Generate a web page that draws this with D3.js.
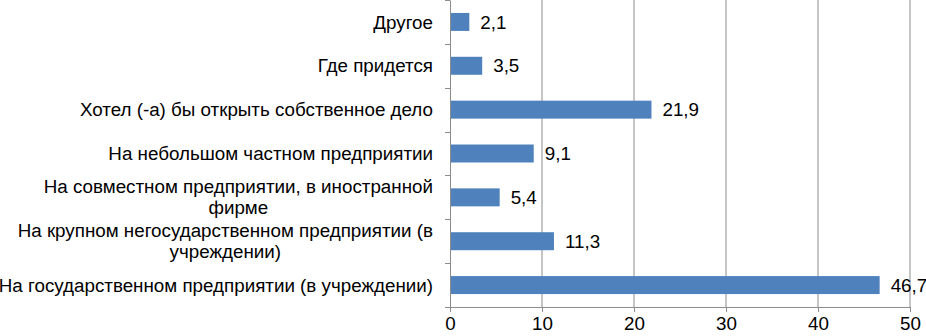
<!DOCTYPE html>
<html>
<head>
<meta charset="utf-8">
<script src="https://cdn.jsdelivr.net/npm/d3@7/dist/d3.min.js"></script>
<style>
  html, body { margin: 0; padding: 0; background: #fff; }
  svg { display: block; }
  text { font-family: Arial, "Liberation Sans", sans-serif; fill: #000; }
</style>
</head>
<body>
<svg id="chart" width="926" height="336"></svg>
<script>
const categories = [
  "Другое",
  "Где придется",
  "Хотел (-а) бы открыть собственное дело",
  "На небольшом частном предприятии",
  "На совместном предприятии, в иностранной фирме",
  "На крупном негосударственном предприятии (в учреждении)",
  "На государственном предприятии (в учреждении)"
];
const values = [2.1, 3.5, 21.9, 9.1, 5.4, 11.3, 46.7];
const valueLabels = ["2,1", "3,5", "21,9", "9,1", "5,4", "11,3", "46,7"];
const xTicks = [0, 10, 20, 30, 40, 50];

const fontSize = 18.8;
const margin = { left: 450, right: 16, top: 0, bottom: 29 };
const W = 926, H = 336;
const innerW = W - margin.left - margin.right;
const innerH = H - margin.top - margin.bottom;

const svg = d3.select("#chart");
const g = svg.append("g").attr("transform", `translate(${margin.left},${margin.top})`);

const x = d3.scaleLinear().domain([0, 50]).range([0, innerW]);
const y = d3.scaleBand().domain(categories).range([0, innerH]).paddingInner(0.59).paddingOuter(0.295);
const yb = d3.scaleBand().domain(categories).range([0, innerH]);

const gridColor = "#8c8c8c";

// gridlines
g.selectAll("line.grid").data(xTicks.filter(d => d > 0)).enter().append("line")
  .attr("x1", d => x(d)).attr("x2", d => x(d))
  .attr("y1", 0).attr("y2", innerH)
  .attr("stroke", gridColor).attr("stroke-width", 1);

// bars
g.selectAll("rect.bar").data(values).enter().append("rect")
  .attr("x", x(0))
  .attr("y", (d, i) => y(categories[i]))
  .attr("width", d => x(d) - x(0))
  .attr("height", y.bandwidth())
  .attr("fill", "#4f81bd");

// value labels
g.selectAll("text.val").data(values).enter().append("text")
  .attr("x", d => x(d) + 11)
  .attr("y", (d, i) => y(categories[i]) + y.bandwidth() / 2)
  .attr("dy", "0.35em")
  .style("font-size", fontSize + "px")
  .text((d, i) => valueLabels[i]);

// x axis
const xAxis = d3.axisBottom(x).tickValues(xTicks).tickSize(5).tickPadding(5).tickFormat(d3.format("d"));
const xg = g.append("g").attr("transform", `translate(0,${innerH})`).call(xAxis);
xg.select(".domain").attr("stroke", gridColor);
xg.selectAll(".tick line").attr("stroke", gridColor);
xg.selectAll(".tick text").style("font-size", fontSize + "px")
  .style("font-family", 'Arial, "Liberation Sans", sans-serif').attr("fill", "#000");

// y axis line and band ticks
const yAxis = d3.axisLeft(yb).tickSize(0).tickFormat("");
const yg = g.append("g").call(yAxis);
yg.select(".domain").attr("stroke", gridColor);
yg.selectAll(".tick").remove();
const bounds = categories.map(c => yb(c)).concat([innerH]);
g.selectAll("line.ytick").data(bounds).enter().append("line")
  .attr("x1", -5).attr("x2", 0)
  .attr("y1", d => Math.round(d) + 0.5).attr("y2", d => Math.round(d) + 0.5)
  .attr("stroke", gridColor);

// category labels with wrapping, right-aligned block, centered lines
const maxW = 445;
const lineH = 21;
const labelRight = -17;
categories.forEach((c, i) => {
  const words = c.split(" ");
  const tmp = g.append("text").style("font-size", fontSize + "px");
  const lines = [];
  let cur = [];
  words.forEach(w => {
    const test = cur.concat([w]).join(" ");
    tmp.text(test);
    if (tmp.node().getComputedTextLength() > maxW && cur.length) {
      lines.push(cur.join(" "));
      cur = [w];
    } else cur.push(w);
  });
  lines.push(cur.join(" "));
  const widths = lines.map(l => { tmp.text(l); return tmp.node().getComputedTextLength(); });
  tmp.remove();
  const blockW = Math.max(...widths);
  const cx = labelRight - blockW / 2;
  const cy = y(c) + y.bandwidth() / 2;
  const t = g.append("text").style("font-size", fontSize + "px").attr("text-anchor", "middle");
  lines.forEach((l, k) => {
    t.append("tspan").attr("x", cx)
      .attr("y", cy + (k - (lines.length - 1) / 2) * lineH)
      .attr("dy", "0.35em").text(l);
  });
});
</script>
</body>
</html>
